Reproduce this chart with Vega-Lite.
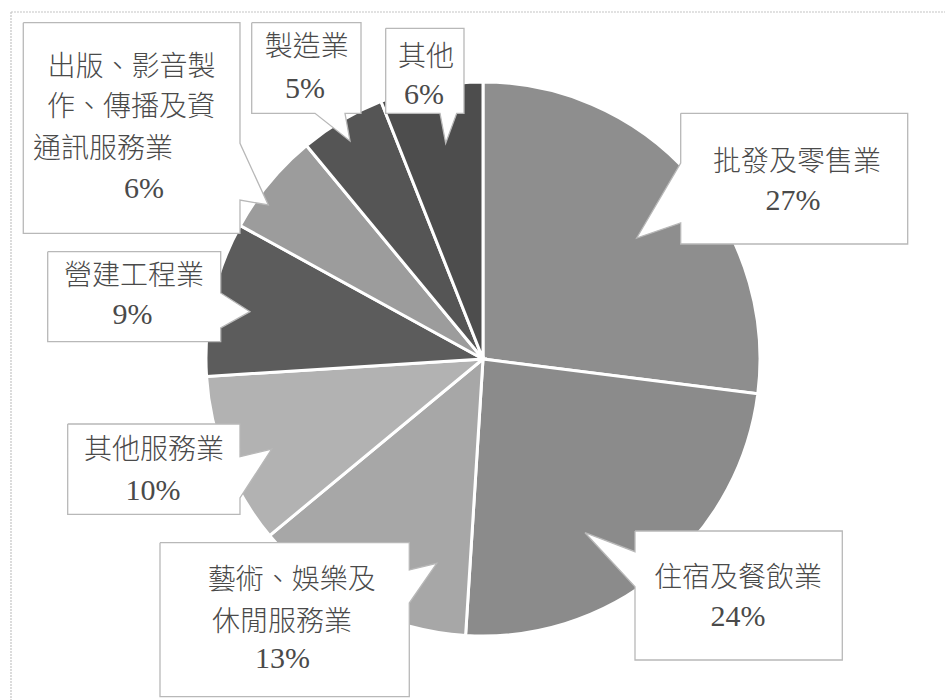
{
  "$schema": "https://vega.github.io/schema/vega-lite/v6.json",
  "width": 946,
  "height": 700,
  "padding": 0,
  "autosize": {"type": "none"},
  "background": "white",
  "config": {"view": {"stroke": null}},
  "datasets": {
    "pie": [
      {"name": "批發及零售業", "share": 27, "ord": 1},
      {"name": "住宿及餐飲業", "share": 24, "ord": 2},
      {"name": "藝術、娛樂及休閒服務業", "share": 13, "ord": 3},
      {"name": "其他服務業", "share": 10, "ord": 4},
      {"name": "營建工程業", "share": 9, "ord": 5},
      {"name": "出版、影音製作、傳播及資通訊服務業", "share": 6, "ord": 6},
      {"name": "製造業", "share": 5, "ord": 7},
      {"name": "其他", "share": 6, "ord": 8}
    ],
    "callouts": [
      {"id": "a", "i": 0, "u": 0.7137, "v": 0.8870},
      {"id": "a", "i": 1, "u": 1.5332, "v": 0.8870},
      {"id": "a", "i": 2, "u": 1.5332, "v": 0.4152},
      {"id": "a", "i": 3, "u": 0.7137, "v": 0.4152},
      {"id": "a", "i": 4, "u": 0.7137, "v": 0.4910},
      {"id": "a", "i": 5, "u": 0.5549, "v": 0.4368},
      {"id": "a", "i": 6, "u": 0.7137, "v": 0.7076},
      {"id": "a", "i": 7, "u": 0.7137, "v": 0.8870},

      {"id": "b", "i": 0, "u": 0.5487, "v": -0.6209},
      {"id": "b", "i": 1, "u": 1.2971, "v": -0.6209},
      {"id": "b", "i": 2, "u": 1.2971, "v": -1.0866},
      {"id": "b", "i": 3, "u": 0.5487, "v": -1.0866},
      {"id": "b", "i": 4, "u": 0.5487, "v": -0.8220},
      {"id": "b", "i": 5, "u": 0.3682, "v": -0.6271},
      {"id": "b", "i": 6, "u": 0.5487, "v": -0.6957},
      {"id": "b", "i": 7, "u": 0.5487, "v": -0.6209},

      {"id": "c", "i": 0, "u": -1.1661, "v": -0.6632},
      {"id": "c", "i": 1, "u": -0.2661, "v": -0.6632},
      {"id": "c", "i": 2, "u": -0.2661, "v": -0.7617},
      {"id": "c", "i": 3, "u": -0.1671, "v": -0.7376},
      {"id": "c", "i": 4, "u": -0.2661, "v": -0.8809},
      {"id": "c", "i": 5, "u": -0.2661, "v": -1.2191},
      {"id": "c", "i": 6, "u": -1.1661, "v": -1.2191},
      {"id": "c", "i": 7, "u": -1.1661, "v": -0.6632},

      {"id": "d", "i": 0, "u": -1.4993, "v": -0.2347},
      {"id": "d", "i": 1, "u": -0.8773, "v": -0.2347},
      {"id": "d", "i": 2, "u": -0.8773, "v": -0.3527},
      {"id": "d", "i": 3, "u": -0.7628, "v": -0.3249},
      {"id": "d", "i": 4, "u": -0.8773, "v": -0.5018},
      {"id": "d", "i": 5, "u": -0.8773, "v": -0.5606},
      {"id": "d", "i": 6, "u": -1.4993, "v": -0.5606},
      {"id": "d", "i": 7, "u": -1.4993, "v": -0.2347},

      {"id": "e", "i": 0, "u": -1.5715, "v": 0.3874},
      {"id": "e", "i": 1, "u": -0.9469, "v": 0.3874},
      {"id": "e", "i": 2, "u": -0.9469, "v": 0.2383},
      {"id": "e", "i": 3, "u": -0.8412, "v": 0.1708},
      {"id": "e", "i": 4, "u": -0.9469, "v": 0.1119},
      {"id": "e", "i": 5, "u": -0.9469, "v": 0.0625},
      {"id": "e", "i": 6, "u": -1.5715, "v": 0.0625},
      {"id": "e", "i": 7, "u": -1.5715, "v": 0.3874},

      {"id": "f", "i": 0, "u": -1.6596, "v": 1.2141},
      {"id": "f", "i": 1, "u": -0.8773, "v": 1.2141},
      {"id": "f", "i": 2, "u": -0.8773, "v": 0.7787},
      {"id": "f", "i": 3, "u": -0.7751, "v": 0.5560},
      {"id": "f", "i": 4, "u": -0.8773, "v": 0.5740},
      {"id": "f", "i": 5, "u": -0.8773, "v": 0.4538},
      {"id": "f", "i": 6, "u": -1.6596, "v": 0.4538},
      {"id": "f", "i": 7, "u": -1.6596, "v": 1.2141},

      {"id": "g", "i": 0, "u": -0.8350, "v": 1.2141},
      {"id": "g", "i": 1, "u": -0.4404, "v": 1.2141},
      {"id": "g", "i": 2, "u": -0.4404, "v": 0.8870},
      {"id": "g", "i": 3, "u": -0.4982, "v": 0.8870},
      {"id": "g", "i": 4, "u": -0.4801, "v": 0.7870},
      {"id": "g", "i": 5, "u": -0.6065, "v": 0.8870},
      {"id": "g", "i": 6, "u": -0.8350, "v": 0.8870},
      {"id": "g", "i": 7, "u": -0.8350, "v": 1.2141},

      {"id": "h", "i": 0, "u": -0.3513, "v": 1.1939},
      {"id": "h", "i": 1, "u": -0.0686, "v": 1.1939},
      {"id": "h", "i": 2, "u": -0.0686, "v": 0.8870},
      {"id": "h", "i": 3, "u": -0.0949, "v": 0.8870},
      {"id": "h", "i": 4, "u": -0.1347, "v": 0.7787},
      {"id": "h", "i": 5, "u": -0.1552, "v": 0.8870},
      {"id": "h", "i": 6, "u": -0.3513, "v": 0.8870},
      {"id": "h", "i": 7, "u": -0.3513, "v": 1.1939}
    ],
    "names": [
      {"t": "批發及零售業", "u": 1.1336, "v": 0.7076},
      {"t": "住宿及餐飲業", "u": 0.9206, "v": -0.7942},
      {"t": "藝術、娛樂及", "u": -0.6906, "v": -0.8007},
      {"t": "休閒服務業", "u": -0.7256, "v": -0.9531},
      {"t": "其他服務業", "u": -1.1877, "v": -0.3314},
      {"t": "營建工程業", "u": -1.2599, "v": 0.2971},
      {"t": "出版、影音製", "u": -1.2690, "v": 1.0495},
      {"t": "作、傳播及資", "u": -1.2708, "v": 0.9051},
      {"t": "通訊服務業", "u": -1.3718, "v": 0.7545},
      {"t": "製造業", "u": -0.6365, "v": 1.1217},
      {"t": "其他", "u": -0.2058, "v": 1.0884}
    ],
    "pcts": [
      {"t": "27%", "u": 1.1191, "v": 0.5704},
      {"t": "24%", "u": 0.9206, "v": -0.9332},
      {"t": "13%", "u": -0.7238, "v": -1.0830},
      {"t": "10%", "u": -1.1913, "v": -0.4758},
      {"t": "9%", "u": -1.2653, "v": 0.1588},
      {"t": "6%", "u": -1.2238, "v": 0.6137},
      {"t": "5%", "u": -0.6426, "v": 0.9747},
      {"t": "6%", "u": -0.2130, "v": 0.9531}
    ],
    "frame": [
      {"u": -1.7040, "u2": 1.6679, "v": 1.2527, "v2": 1.2527},
      {"u": -1.7040, "u2": -1.7040, "v": 1.2527, "v2": -1.2310}
    ]
  },
  "layer": [
    {
      "data": {"name": "pie"},
      "mark": {"type": "arc", "radius": 277, "stroke": "white", "strokeWidth": 3},
      "encoding": {
        "x": {"datum": 0, "type": "quantitative", "scale": {"domain": [-1.74368, 1.67148], "nice": false, "zero": false}, "axis": null},
        "y": {"datum": 0, "type": "quantitative", "scale": {"domain": [-1.23105, 1.29603], "nice": false, "zero": false}, "axis": null},
        "theta": {"field": "share", "type": "quantitative", "stack": true},
        "order": {"field": "ord", "type": "quantitative", "sort": "ascending"},
        "color": {
          "field": "name", "type": "nominal", "legend": null,
          "scale": {
            "domain": ["批發及零售業", "住宿及餐飲業", "藝術、娛樂及休閒服務業", "其他服務業", "營建工程業", "出版、影音製作、傳播及資通訊服務業", "製造業", "其他"],
            "range": ["#8e8e8e", "#8b8b8b", "#a7a7a7", "#b2b2b2", "#5c5c5c", "#9c9c9c", "#555555", "#4d4d4d"]
          }
        }
      }
    },
    {
      "data": {"name": "callouts"},
      "mark": {"type": "line", "fill": "white", "stroke": "#b8b8b8", "strokeWidth": 1.3, "interpolate": "linear"},
      "encoding": {
        "x": {"field": "u", "type": "quantitative", "scale": {"domain": [-1.74368, 1.67148], "nice": false, "zero": false}, "axis": null},
        "y": {"field": "v", "type": "quantitative", "scale": {"domain": [-1.23105, 1.29603], "nice": false, "zero": false}, "axis": null},
        "detail": {"field": "id", "type": "nominal"},
        "order": {"field": "i", "type": "quantitative"}
      }
    },
    {
      "data": {"name": "names"},
      "mark": {"type": "text", "font": "Noto Sans CJK TC", "fontSize": 28, "fontWeight": 300, "color": "#4a4a4a", "align": "center", "baseline": "middle"},
      "encoding": {
        "x": {"field": "u", "type": "quantitative", "scale": {"domain": [-1.74368, 1.67148], "nice": false, "zero": false}, "axis": null},
        "y": {"field": "v", "type": "quantitative", "scale": {"domain": [-1.23105, 1.29603], "nice": false, "zero": false}, "axis": null},
        "text": {"field": "t", "type": "nominal"}
      }
    },
    {
      "data": {"name": "pcts"},
      "mark": {"type": "text", "font": "Times New Roman, Liberation Serif, serif", "fontSize": 30, "color": "#4a4a4a", "align": "center", "baseline": "middle"},
      "encoding": {
        "x": {"field": "u", "type": "quantitative", "scale": {"domain": [-1.74368, 1.67148], "nice": false, "zero": false}, "axis": null},
        "y": {"field": "v", "type": "quantitative", "scale": {"domain": [-1.23105, 1.29603], "nice": false, "zero": false}, "axis": null},
        "text": {"field": "t", "type": "nominal"}
      }
    },
    {
      "data": {"name": "frame"},
      "mark": {"type": "rule", "stroke": "#c4c4c4", "strokeWidth": 1.2, "strokeDash": [2, 1]},
      "encoding": {
        "x": {"field": "u", "type": "quantitative", "scale": {"domain": [-1.74368, 1.67148], "nice": false, "zero": false}, "axis": null},
        "x2": {"field": "u2"},
        "y": {"field": "v", "type": "quantitative", "scale": {"domain": [-1.23105, 1.29603], "nice": false, "zero": false}, "axis": null},
        "y2": {"field": "v2"}
      }
    }
  ]
}
